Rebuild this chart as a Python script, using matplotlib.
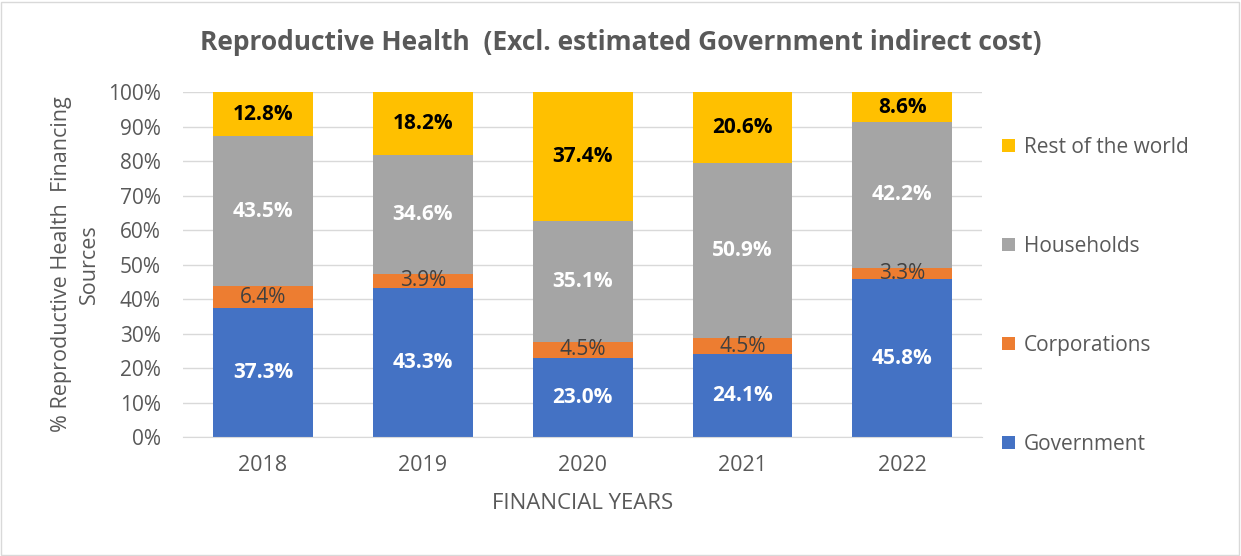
import numpy as np
import matplotlib.pyplot as plt
from matplotlib.patches import Rectangle

plt.rcParams['font.family'] = ['Open Sans', 'DejaVu Sans']

years = ['2018', '2019', '2020', '2021', '2022']
government = [37.3, 43.3, 23.0, 24.1, 45.8]
corporations = [6.4, 3.9, 4.5, 4.5, 3.3]
households = [43.5, 34.6, 35.1, 50.9, 42.2]
rest_world = [12.8, 18.2, 37.4, 20.6, 8.6]

series = [
    ('Government', government, '#4472C4', 'white', 'bold'),
    ('Corporations', corporations, '#ED7D31', '#404040', 'normal'),
    ('Households', households, '#A5A5A5', 'white', 'bold'),
    ('Rest of the world', rest_world, '#FFC000', 'black', 'bold'),
]

fig = plt.figure(figsize=(12.41, 5.56), dpi=100)
ax = fig.add_axes([0.1475, 0.214, 0.644, 0.6205])

x = np.arange(len(years))
bottom = np.zeros(len(years))
for name, vals, col, tcol, tw in series:
    vals = np.array(vals)
    ax.bar(x, vals, 0.625, bottom=bottom, color=col, label=name, zorder=2)
    for xi, b, v in zip(x, bottom, vals):
        ax.text(xi, b + v / 2, f'{v:.1f}%', ha='center', va='center',
                color=tcol, fontsize=15, fontweight=tw, zorder=3)
    bottom += vals

ax.set_xlim(-0.5, len(years) - 0.5)
ax.set_ylim(0, 100)
ax.set_yticks(np.arange(0, 101, 10))
ax.set_yticklabels([f'{v}%' for v in range(0, 101, 10)])
ax.set_xticks(x)
ax.set_xticklabels(years)
ax.tick_params(axis='y', length=0, labelsize=15, labelcolor='#595959', pad=16)
ax.tick_params(axis='x', length=0, labelsize=15.5, labelcolor='#595959', pad=13)
ax.yaxis.grid(True, color='#D9D9D9', linewidth=1, zorder=0)
for s in ['top', 'right', 'left']:
    ax.spines[s].set_visible(False)
ax.spines['bottom'].set_color('#D9D9D9')

ax.set_xlabel('FINANCIAL YEARS', fontsize=16, color='#595959', labelpad=12)
ax.set_ylabel('% Reproductive Health  Financing\nSources', fontsize=15.5,
              color='#595959', labelpad=6, linespacing=1.4)

fig.text(0.5, 0.924, 'Reproductive Health  (Excl. estimated Government indirect cost)',
         ha='center', va='center', fontsize=19, fontweight='bold', color='#595959')

h, l = ax.get_legend_handles_labels()
leg = fig.legend(h[::-1], l[::-1], loc='center left', bbox_to_anchor=(0.801, 0.468),
                 frameon=False, fontsize=15, labelspacing=3.75, handlelength=0.6,
                 handleheight=0.6, handletextpad=0.45, borderaxespad=0)
for t in leg.get_texts():
    t.set_color('#595959')

fig.patches.append(Rectangle((0.001, 0.002), 0.997, 0.995, transform=fig.transFigure,
                             fill=False, edgecolor='#D9D9D9', linewidth=1))

fig.savefig('out.png', dpi=100)
